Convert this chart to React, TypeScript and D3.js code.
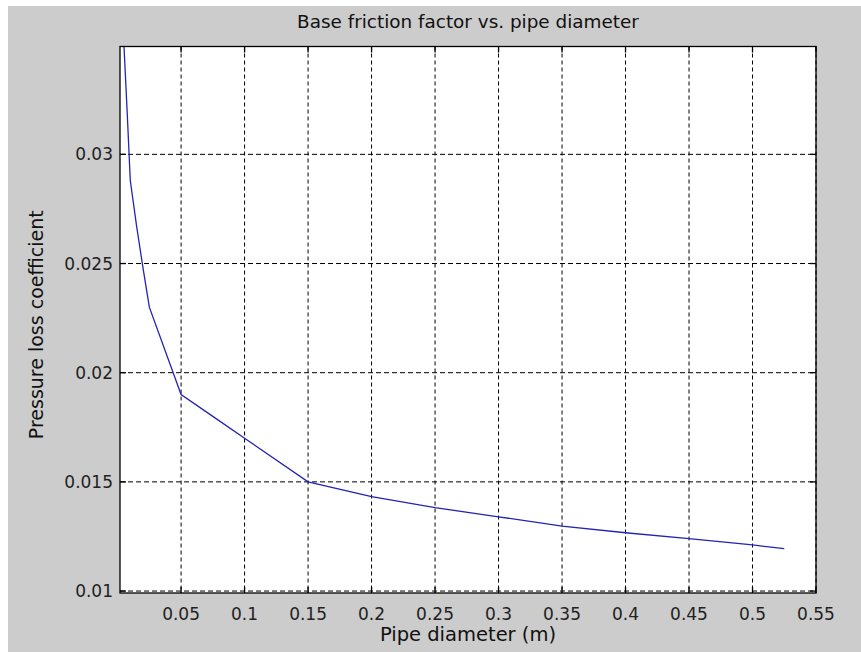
import React from "react";
import * as d3 from "d3";

const diameters = [0.005, 0.0075, 0.01, 0.015, 0.02, 0.025, 0.05, 0.075, 0.1, 0.15, 0.2, 0.25, 0.3, 0.35, 0.4, 0.45, 0.5, 0.525];
const coefficients = [0.0350, 0.0320, 0.0288, 0.0267, 0.0248, 0.0230, 0.0190, 0.0180, 0.0170, 0.0150, 0.01432, 0.01382, 0.01340, 0.01297, 0.01267, 0.01240, 0.01211, 0.01194];
const xTicks = [0.05, 0.1, 0.15, 0.2, 0.25, 0.3, 0.35, 0.4, 0.45, 0.5, 0.55];
const xTickLabels = ["0.05", "0.1", "0.15", "0.2", "0.25", "0.3", "0.35", "0.4", "0.45", "0.5", "0.55"];
const yTicks = [0.01, 0.015, 0.02, 0.025, 0.03];
const yTickLabels = ["0.01", "0.015", "0.02", "0.025", "0.03"];

const TITLE = "Base friction factor vs. pipe diameter";
const XLABEL = "Pipe diameter (m)";
const YLABEL = "Pressure loss coefficient";

const W = 861;
const H = 652;
const L = 120;
const R = 816;
const T = 46.5;
const B = 593;
const FONT = "'DejaVu Sans', sans-serif";

export default function App() {
  const x = d3.scaleLinear().domain([0.0019, 0.55]).range([L, R]);
  const y = d3.scaleLinear().domain([0.00991, 0.03494]).range([B, T]);
  const pts = diameters.map((d, i) => [d, coefficients[i]] as [number, number]);
  const line = d3.line<[number, number]>().x((d) => x(d[0])).y((d) => y(d[1]));
  const tickLen = 6;
  return (
    <svg width={W} height={H} style={{ position: "fixed", left: 0, top: 0 }} xmlns="http://www.w3.org/2000/svg">
      <rect x={0} y={0} width={W} height={H} fill="#ffffff" />
      <rect x={8} y={6} width={W - 8} height={H - 6} fill="#cccccc" />
      <defs>
        <clipPath id="plotclip">
          <rect x={L} y={T} width={R - L} height={B - T} />
        </clipPath>
      </defs>
      <rect x={L} y={T} width={R - L} height={B - T} fill="#ffffff" />
      {xTicks.map((t) => (
        <line key={"gx" + t} x1={x(t)} x2={x(t)} y1={T} y2={B} stroke="#000" strokeWidth={1} strokeDasharray="4,3" />
      ))}
      {yTicks.map((t) => (
        <line key={"gy" + t} x1={L} x2={R} y1={y(t)} y2={y(t)} stroke="#000" strokeWidth={1} strokeDasharray="5,3" />
      ))}
      {xTicks.map((t) => (
        <g key={"tx" + t}>
          <line x1={x(t)} x2={x(t)} y1={B} y2={B - tickLen} stroke="#000" strokeWidth={1.3} />
          <line x1={x(t)} x2={x(t)} y1={T} y2={T + tickLen} stroke="#000" strokeWidth={1.3} />
        </g>
      ))}
      {yTicks.map((t) => (
        <g key={"ty" + t}>
          <line x1={L} x2={L + tickLen} y1={y(t)} y2={y(t)} stroke="#000" strokeWidth={1.3} />
          <line x1={R} x2={R - tickLen} y1={y(t)} y2={y(t)} stroke="#000" strokeWidth={1.3} />
        </g>
      ))}
      <path d={line(pts) || ""} fill="none" stroke="#2323b4" strokeWidth={1.3} clipPath="url(#plotclip)" />
      <rect x={L} y={T} width={R - L} height={B - T} fill="none" stroke="#000" strokeWidth={1.3} />
      {xTicks.map((t, i) => (
        <text key={"lx" + t} x={x(t)} y={620} textAnchor="middle" fontFamily={FONT} fontSize={17} fill="#222">
          {xTickLabels[i]}
        </text>
      ))}
      {yTicks.map((t, i) => (
        <text key={"ly" + t} x={113} y={y(t)} dy="0.36em" textAnchor="end" fontFamily={FONT} fontSize={17} fill="#222">
          {yTickLabels[i]}
        </text>
      ))}
      <text x={(L + R) / 2} y={28} textAnchor="middle" fontFamily={FONT} fontSize={18.4} fill="#111">
        {TITLE}
      </text>
      <text x={(L + R) / 2} y={641} textAnchor="middle" fontFamily={FONT} fontSize={19.5} fill="#111">
        {XLABEL}
      </text>
      <text transform={`translate(43, ${(T + B) / 2 + 5}) rotate(-90)`} textAnchor="middle" fontFamily={FONT} fontSize={19} fill="#111">
        {YLABEL}
      </text>
    </svg>
  );
}
